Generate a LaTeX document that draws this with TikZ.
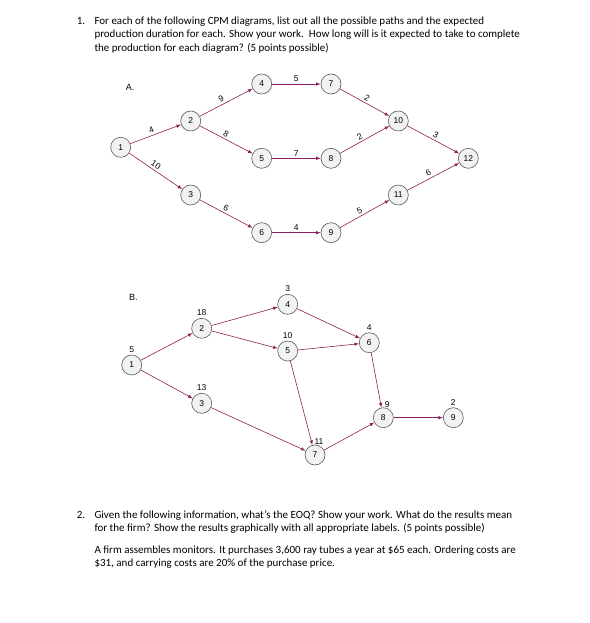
\documentclass[tikz,border=0pt]{standalone}
\usepackage{fontspec}
\setmainfont{Carlito}
\newfontfamily\diagfont{Liberation Sans}
\usepackage{tikz}
\definecolor{cpmline}{RGB}{140,30,90}
\definecolor{cpmfill}{RGB}{242,242,242}
\definecolor{cpmdraw}{RGB}{90,90,90}
\tikzset{
  event/.style={shape=circle,draw=cpmdraw,fill=cpmfill,line width=0.6pt,minimum size=20pt,inner sep=0pt,font=\diagfont\fontsize{8.5}{9}\selectfont},
  act/.style={->,draw=cpmline,line width=0.6pt,>=latex},
  dur/.style={font=\diagfont\fontsize{8.5}{9}\selectfont,inner sep=2pt},
  qline/.style={anchor=base west,inner sep=0pt,font=\fontsize{11}{13.5}\selectfont}
}
\begin{document}
\begin{tikzpicture}[x=1pt,y=-1pt]
\useasboundingbox (0,0) rectangle (589,623);
% question 1
\node [qline] (q1n) at (76.7,24.3) {1.};
\node [qline] (q1a) at (94.3,24.3) {For each of the following CPM diagrams, list out all the possible paths and the expected};
\node [qline] (q1b) at (94.3,38) {production duration for each. Show your work.\ \ How long will is it expected to take to complete};
\node [qline] (q1c) at (94.3,51.7) {the production for each diagram? (5 points possible)};
% diagram A
\node [font=\diagfont\fontsize{9}{10}\selectfont] (la) at (130,87.7) {A.};
\path node (a1) at (120.7,147.3) [event] {1}
      node (a2) at (190.7,121) [event] {2}
      node (a3) at (190.7,195) [event] {3}
      node (a4) at (261.7,84) [event] {4}
      node (a5) at (261.7,158.3) [event] {5}
      node (a6) at (261.7,232.7) [event] {6}
      node (a7) at (331,84) [event] {7}
      node (a8) at (331,158.3) [event] {8}
      node (a9) at (331,232.7) [event] {9}
      node (a10) at (398.3,121) [event] {10}
      node (a11) at (398.3,195) [event] {11}
      node (a12) at (468.3,158.3) [event] {12};
\draw [act] (a1) to node [dur,above,sloped,pos=0.45] {4} (a2);
\draw [act] (a1) to node [dur,above,sloped,pos=0.45] {10} (a3);
\draw [act] (a2) to node [dur,above,sloped,pos=0.45] {9} (a4);
\draw [act] (a2) to node [dur,above,sloped,pos=0.45] {8} (a5);
\draw [act] (a3) to node [dur,above,sloped,pos=0.45] {6} (a6);
\draw [act] (a4) to node [dur,above,pos=0.5] {5} (a7);
\draw [act] (a5) to node [dur,above,pos=0.5] {7} (a8);
\draw [act] (a6) to node [dur,above,pos=0.5] {4} (a9);
\draw [act] (a7) to node [dur,above,sloped,pos=0.5] {2} (a10);
\draw [act] (a8) to node [dur,above,sloped,pos=0.45] {2} (a10);
\draw [act] (a9) to node [dur,above,sloped,pos=0.45] {5} (a11);
\draw [act] (a10) to node [dur,above,sloped,pos=0.5] {3} (a12);
\draw [act] (a11) to node [dur,above,sloped,pos=0.45] {6} (a12);
% diagram B
\node [font=\diagfont\fontsize{9}{10}\selectfont] (lb) at (133.3,297.7) {B.};
\path node (b1) at (131.7,365) [event,label={[dur,label distance=0pt]above:5}] {1}
      node (b2) at (201.7,328.3) [event,label={[dur,label distance=0pt]above:18}] {2}
      node (b3) at (201.7,403.3) [event,label={[dur,label distance=0pt]above:13}] {3}
      node (b4) at (287.7,304.3) [event,label={[dur,label distance=0pt]above:3}] {4}
      node (b5) at (287.7,351) [event,label={[dur,label distance=0pt]above:10}] {5}
      node (b6) at (369.3,342.7) [event,label={[dur,label distance=0pt]above:4}] {6}
      node (b7) at (315,455) [event,label={[dur,label distance=-2pt,xshift=4pt]above:11}] {7}
      node (b8) at (383.3,417.7) [event,label={[dur,label distance=-2pt,xshift=4pt]above:9}] {8}
      node (b9) at (453.3,417.7) [event,label={[dur,label distance=0pt]above:2}] {9};
\draw [act] (b1) to (b2);
\draw [act] (b1) to (b3);
\draw [act] (b2) to (b4);
\draw [act] (b2) to (b5);
\draw [act] (b4) to (b6);
\draw [act] (b5) to (b6);
\draw [act] (b5) to (b7);
\draw [act] (b3) to (b7);
\draw [act] (b6) to (b8);
\draw [act] (b7) to (b8);
\draw [act] (b8) to (b9);
% question 2
\node [qline] (q2n) at (76.7,518.3) {2.};
\node [qline] (q2a) at (94.3,518.3) {Given the following information, what’s the EOQ? Show your work. What do the results mean};
\node [qline] (q2b) at (94.3,531.7) {for the firm? Show the results graphically with all appropriate labels. (5 points possible)};
\node [qline] (q2c) at (94.3,553.3) {A firm assembles monitors. It purchases 3,600 ray tubes a year at \$65 each. Ordering costs are};
\node [qline] (q2d) at (94.3,566.7) {\$31, and carrying costs are 20\% of the purchase price.};
\end{tikzpicture}
\end{document}
